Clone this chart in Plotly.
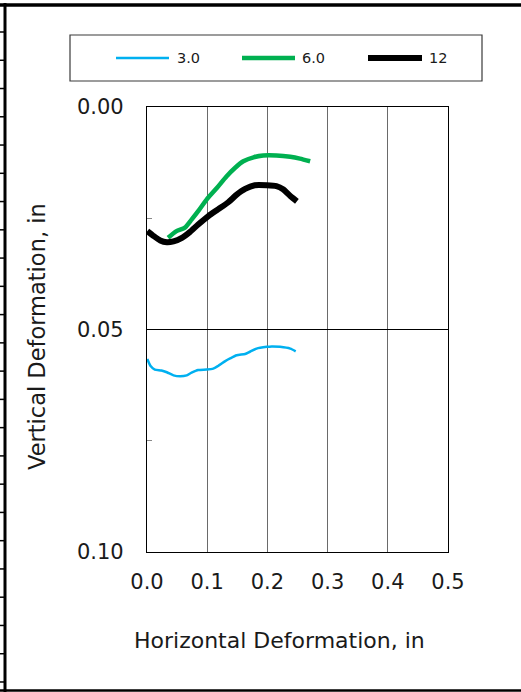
import plotly.graph_objects as go

# Horizontal vs. vertical deformation for three series
h_30 = [0.0005, 0.006, 0.013, 0.024, 0.033, 0.044, 0.055, 0.066, 0.074, 0.085, 0.099, 0.110,
        0.118, 0.130, 0.138, 0.149, 0.163, 0.171, 0.182, 0.199, 0.207, 0.221, 0.238, 0.247]
v_30 = [0.0566, 0.0582, 0.0590, 0.0592, 0.0596, 0.0603, 0.0605, 0.0603, 0.0597, 0.0591, 0.0590, 0.0588,
        0.0582, 0.0571, 0.0565, 0.0558, 0.0555, 0.0550, 0.0543, 0.0539, 0.0538, 0.0539, 0.0543, 0.0549]

h_60 = [0.035, 0.049, 0.063, 0.074, 0.085, 0.099, 0.116, 0.132, 0.146, 0.160, 0.177, 0.193,
        0.215, 0.238, 0.254, 0.271]
v_60 = [0.0294, 0.0279, 0.0271, 0.0253, 0.0234, 0.0208, 0.0182, 0.0156, 0.0137, 0.0122, 0.0113, 0.0109,
        0.0109, 0.0112, 0.0116, 0.0122]

h_12 = [0.0005, 0.010, 0.022, 0.033, 0.044, 0.058, 0.071, 0.085, 0.102, 0.118, 0.135, 0.149,
        0.163, 0.179, 0.199, 0.215, 0.226, 0.238, 0.249]
v_12 = [0.0279, 0.0289, 0.0300, 0.0304, 0.0302, 0.0294, 0.0281, 0.0264, 0.0245, 0.0230, 0.0214, 0.0197,
        0.0184, 0.0176, 0.0176, 0.0178, 0.0185, 0.0200, 0.0212]

series_names = ["3.0", "6.0", "12"]
series_colors = ["#00B0F0", "#00B050", "#000000"]
series_widths = [2.5, 4.5, 6]

W, H = 521, 692
L, R, T, B = 147, 73, 107, 140
PW, PH = W - L - R, H - T - B


def px(x):
    return (x - L) / PW


def py(y):
    return (H - B - y) / PH


FONT = "DejaVu Sans, Verdana, sans-serif"
fig = go.Figure()

for hx, vy, name, col, w in zip([h_30, h_60, h_12], [v_30, v_60, v_12],
                                series_names, series_colors, series_widths):
    fig.add_trace(go.Scatter(x=hx, y=vy, mode="lines", name=name,
                             line=dict(color=col, width=w, shape="spline", smoothing=0.6),
                             showlegend=False))

shapes = []
annotations = []

# legend box with line samples
shapes.append(dict(type="rect", xref="paper", yref="paper", x0=px(70), x1=px(482),
                   y0=py(81), y1=py(35), line=dict(color="#3a3a3a", width=1.2),
                   fillcolor="white", layer="above"))
leg_x = [(116, 169, 175), (242, 295, 300), (368, 422, 427)]
for (a, b, t), name, col, w in zip(leg_x, series_names, series_colors, series_widths):
    shapes.append(dict(type="line", xref="paper", yref="paper", x0=px(a), x1=px(b),
                       y0=py(58), y1=py(58), line=dict(color=col, width=w)))
    annotations.append(dict(text=name, xref="paper", yref="paper", x=px(t), y=py(58),
                            xanchor="left", yanchor="middle", showarrow=False,
                            font=dict(family=FONT, size=14.5, color="#1a1a1a")))

# outer frame
shapes.append(dict(type="line", xref="paper", yref="paper", x0=px(0), x1=px(W),
                   y0=py(5), y1=py(5), line=dict(color="black", width=3.5)))
shapes.append(dict(type="line", xref="paper", yref="paper", x0=px(5), x1=px(5),
                   y0=py(3), y1=py(H), line=dict(color="black", width=3)))
shapes.append(dict(type="line", xref="paper", yref="paper", x0=px(0), x1=px(W),
                   y0=py(690.5), y1=py(690.5), line=dict(color="black", width=2.5)))
k = 0
while 32 + 28.26 * k < 688:
    yy = 32 + 28.26 * k
    shapes.append(dict(type="line", xref="paper", yref="paper", x0=px(0), x1=px(5),
                       y0=py(yy), y1=py(yy), line=dict(color="black", width=1.5)))
    k += 1

# axis titles
annotations.append(dict(text="Horizontal Deformation, in", xref="paper", yref="paper",
                        x=px(279), y=py(640), xanchor="center", yanchor="middle",
                        showarrow=False, font=dict(family=FONT, size=22, color="#1a1a1a")))
annotations.append(dict(text="Vertical Deformation, in", xref="paper", yref="paper",
                        x=px(37), y=py(337), xanchor="center", yanchor="middle", textangle=-90,
                        showarrow=False, font=dict(family=FONT, size=22.5, color="#1a1a1a")))

fig.update_layout(
    width=W, height=H,
    margin=dict(l=L, r=R, t=T, b=B, pad=0),
    paper_bgcolor="white", plot_bgcolor="white",
    font=dict(family=FONT, size=21, color="#1a1a1a"),
    shapes=shapes, annotations=annotations,
    xaxis=dict(range=[0, 0.5], dtick=0.1, tickformat=".1f", showgrid=True,
               gridcolor="#6a6a6a", gridwidth=1.3, zeroline=False,
               showline=True, linecolor="black", linewidth=1.3, mirror=True,
               ticks="", ticklabelstandoff=11),
    yaxis=dict(range=[0.1, 0], dtick=0.05, tickformat=".2f", showgrid=True,
               gridcolor="black", gridwidth=1.3, zeroline=False,
               showline=True, linecolor="black", linewidth=1.3, mirror=True,
               ticks="", ticklabelstandoff=18,
               minor=dict(ticks="inside", ticklen=5, tickwidth=1, tickcolor="#888888",
                          dtick=0.025, showgrid=False)),
)

fig.write_html("out.html")
